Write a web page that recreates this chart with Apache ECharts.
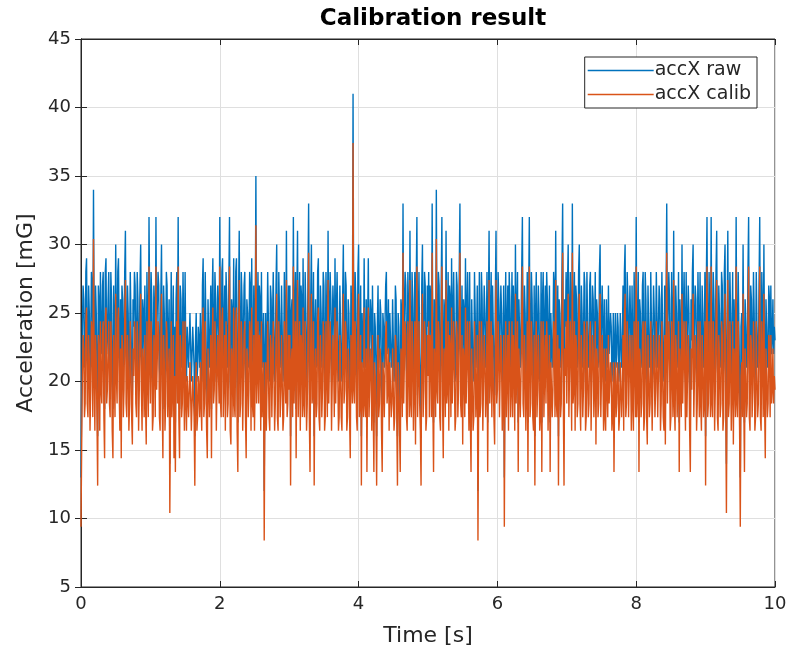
<!DOCTYPE html>
<html>
<head>
<meta charset="utf-8">
<script src="https://cdn.jsdelivr.net/npm/echarts@6/dist/echarts.min.js"></script>
<style>
html,body{margin:0;padding:0;background:#fff;}
#chart{width:794px;height:662px;}
</style>
</head>
<body>
<div id="chart"></div>
<script>
const dt = 0.01;
const xTicks = [0, 2, 4, 6, 8, 10];
const yTicks = [5, 10, 15, 20, 25, 30, 35, 40, 45];
const seriesNames = ['accX raw', 'accX calib'];

const accRaw = [
13,19,24,27,26,21,22,28,29,22,21,27,25,20,23,28,27,21,34,24,20,27,25,21,16,27,26,20,28,23,22,27,28,21,18,28,29,22,23,26,28,22,21,28,26,20,18,27,24,21,30,24,22,28,29,23,20,26,18,27,26,21,23,28,31,22,21,27,25,20,22,28,28,21,19,26,24,28,27,22,21,28,26,20,23,27,30,23,20,26,25,21,27,22,19,28,24,21,32,25,
22,28,26,20,21,27,25,21,32,23,23,28,27,21,20,26,30,22,18,27,25,20,22,28,27,21,21,26,14,22,28,21,23,27,18,24,17,26,28,22,32,21,18,27,26,21,22,28,24,20,28,22,20,24,24,21,21,25,25,20,22,24,24,21,16,23,25,20,21,24,23,21,25,22,20,27,29,21,22,28,28,20,18,26,26,21,21,27,18,26,29,22,23,28,26,20,20,27,27,22,
32,22,21,28,29,21,24,27,20,28,26,21,22,27,32,20,19,26,25,21,29,22,21,28,29,20,17,26,31,21,22,28,26,20,20,27,28,21,18,26,25,21,23,28,27,20,29,22,21,27,20,24,35,22,24,28,22,27,26,20,28,21,21,25,12,22,25,20,23,28,28,21,20,27,26,21,21,28,24,20,22,27,30,21,20,28,25,21,23,27,27,20,21,28,24,22,31,21,22,27,
23,27,16,25,26,21,32,22,22,28,18,26,31,21,24,28,20,27,26,21,29,22,21,28,25,20,22,27,33,21,17,26,30,22,23,28,16,24,26,21,22,28,29,21,20,27,25,21,23,28,27,20,21,28,24,21,31,22,22,28,26,20,20,27,25,21,29,22,22,28,24,20,21,27,27,21,20,26,30,22,23,28,27,20,21,26,25,21,18,27,24,22,41,23,22,28,26,21,20,28,
30,21,22,27,16,25,25,21,29,22,21,26,17,24,29,21,23,26,25,20,27,22,17,25,24,21,16,24,27,21,22,26,25,20,17,25,24,21,21,27,28,22,23,26,20,25,25,21,22,26,26,20,21,27,26,21,16,25,24,20,17,26,25,21,33,22,22,28,27,21,20,28,25,21,31,22,21,28,26,20,23,28,19,27,32,21,24,28,22,20,16,27,30,21,23,28,27,20,21,27,
24,28,21,27,26,21,33,22,17,26,25,21,34,23,22,28,27,21,20,27,32,22,18,26,25,21,31,22,23,28,20,27,26,21,29,22,22,28,24,20,21,28,27,21,23,28,33,22,21,27,19,26,25,21,29,22,22,28,24,20,28,21,17,26,26,20,21,28,25,21,23,27,12,22,28,21,22,28,26,20,20,27,25,21,23,28,17,25,31,22,24,28,21,27,27,21,19,26,31,22,
23,28,26,21,21,27,25,20,22,27,13,24,28,21,24,27,20,28,26,21,23,28,21,27,25,20,30,22,22,28,17,26,26,21,24,28,32,22,21,27,25,20,23,28,17,26,32,21,22,28,26,21,20,27,16,25,28,21,23,27,25,20,21,28,17,26,28,21,24,27,22,28,26,20,20,27,17,25,25,21,23,28,27,21,31,22,21,27,16,26,25,21,22,28,33,22,16,26,24,28,
22,27,30,21,21,28,25,20,33,22,23,28,20,27,26,21,22,28,30,22,20,27,25,21,23,28,27,20,21,28,24,21,22,27,28,20,20,27,26,21,23,28,19,26,25,21,22,28,30,21,21,27,24,20,26,21,20,26,23,21,27,22,22,25,24,20,21,25,17,23,25,21,22,25,24,20,21,25,25,21,23,27,20,28,30,21,22,28,26,21,21,27,24,20,27,22,20,28,25,21,
32,21,23,28,17,26,25,21,22,27,28,20,21,28,26,21,19,27,24,21,22,28,28,20,20,27,25,21,23,28,28,21,21,27,26,20,22,28,24,21,20,27,19,26,33,22,22,28,26,20,21,28,24,21,31,22,20,27,25,21,23,28,17,26,26,21,30,22,22,28,24,20,28,21,21,27,25,20,17,26,23,28,30,21,21,27,26,20,22,28,24,21,28,22,20,27,25,21,22,28,
16,27,32,21,22,28,25,21,32,22,21,28,26,20,23,28,31,21,20,27,25,21,22,28,27,20,21,28,30,22,14,24,31,21,22,28,25,20,23,28,19,26,26,21,32,22,21,28,24,20,13,24,25,21,30,22,17,26,24,21,22,28,32,21,20,27,26,21,23,28,25,20,21,28,24,21,22,27,32,21,20,28,25,21,30,22,18,26,24,21,22,27,26,21,27,22,23,26,22,24,
23
];

const accCalib = [
9.4,15.4,20.4,23.4,22.4,17.4,18.4,24.4,25.4,18.4,17.4,23.4,21.4,16.4,19.4,24.4,23.4,17.4,30.4,20.4,16.4,23.4,21.4,17.4,12.4,23.4,22.4,16.4,24.4,19.4,18.4,23.4,24.4,17.4,14.4,24.4,25.4,18.4,19.4,22.4,24.4,18.4,17.4,24.4,22.4,16.4,14.4,23.4,20.4,17.4,26.4,20.4,18.4,24.4,25.4,19.4,16.4,22.4,14.4,23.4,22.4,17.4,19.4,24.4,27.4,18.4,17.4,23.4,21.4,16.4,18.4,24.4,24.4,17.4,15.4,22.4,20.4,24.4,23.4,18.4,17.4,24.4,22.4,16.4,19.4,23.4,26.4,19.4,16.4,22.4,21.4,17.4,23.4,18.4,15.4,24.4,20.4,17.4,28.4,21.4,
18.4,24.4,22.4,16.4,17.4,23.4,21.4,17.4,28.4,19.4,19.4,24.4,23.4,17.4,16.4,22.4,26.4,18.4,14.4,23.4,21.4,16.4,18.4,24.4,23.4,17.4,17.4,22.4,10.4,18.4,24.4,17.4,19.4,23.4,14.4,20.4,13.4,22.4,24.4,18.4,28.4,17.4,14.4,23.4,22.4,17.4,18.4,24.4,20.4,16.4,24.4,18.4,16.4,20.4,20.4,17.4,17.4,21.4,21.4,16.4,18.4,20.4,20.4,17.4,12.4,19.4,21.4,16.4,17.4,20.4,19.4,17.4,21.4,18.4,16.4,23.4,25.4,17.4,18.4,24.4,24.4,16.4,14.4,22.4,22.4,17.4,17.4,23.4,14.4,22.4,25.4,18.4,19.4,24.4,22.4,16.4,16.4,23.4,23.4,18.4,
28.4,18.4,17.4,24.4,25.4,17.4,20.4,23.4,16.4,24.4,22.4,17.4,18.4,23.4,28.4,16.4,15.4,22.4,21.4,17.4,25.4,18.4,17.4,24.4,25.4,16.4,13.4,22.4,27.4,17.4,18.4,24.4,22.4,16.4,16.4,23.4,24.4,17.4,14.4,22.4,21.4,17.4,19.4,24.4,23.4,16.4,25.4,18.4,17.4,23.4,16.4,20.4,31.4,18.4,20.4,24.4,18.4,23.4,22.4,16.4,24.4,17.4,17.4,21.4,8.4,18.4,21.4,16.4,19.4,24.4,24.4,17.4,16.4,23.4,22.4,17.4,17.4,24.4,20.4,16.4,18.4,23.4,26.4,17.4,16.4,24.4,21.4,17.4,19.4,23.4,23.4,16.4,17.4,24.4,20.4,18.4,27.4,17.4,18.4,23.4,
19.4,23.4,12.4,21.4,22.4,17.4,28.4,18.4,18.4,24.4,14.4,22.4,27.4,17.4,20.4,24.4,16.4,23.4,22.4,17.4,25.4,18.4,17.4,24.4,21.4,16.4,18.4,23.4,29.4,17.4,13.4,22.4,26.4,18.4,19.4,24.4,12.4,20.4,22.4,17.4,18.4,24.4,25.4,17.4,16.4,23.4,21.4,17.4,19.4,24.4,23.4,16.4,17.4,24.4,20.4,17.4,27.4,18.4,18.4,24.4,22.4,16.4,16.4,23.4,21.4,17.4,25.4,18.4,18.4,24.4,20.4,16.4,17.4,23.4,23.4,17.4,16.4,22.4,26.4,18.4,19.4,24.4,23.4,16.4,17.4,22.4,21.4,17.4,14.4,23.4,20.4,18.4,37.4,19.4,18.4,24.4,22.4,17.4,16.4,24.4,
26.4,17.4,18.4,23.4,12.4,21.4,21.4,17.4,25.4,18.4,17.4,22.4,13.4,20.4,25.4,17.4,19.4,22.4,21.4,16.4,23.4,18.4,13.4,21.4,20.4,17.4,12.4,20.4,23.4,17.4,18.4,22.4,21.4,16.4,13.4,21.4,20.4,17.4,17.4,23.4,24.4,18.4,19.4,22.4,16.4,21.4,21.4,17.4,18.4,22.4,22.4,16.4,17.4,23.4,22.4,17.4,12.4,21.4,20.4,16.4,13.4,22.4,21.4,17.4,29.4,18.4,18.4,24.4,23.4,17.4,16.4,24.4,21.4,17.4,27.4,18.4,17.4,24.4,22.4,16.4,19.4,24.4,15.4,23.4,28.4,17.4,20.4,24.4,18.4,16.4,12.4,23.4,26.4,17.4,19.4,24.4,23.4,16.4,17.4,23.4,
20.4,24.4,17.4,23.4,22.4,17.4,29.4,18.4,13.4,22.4,21.4,17.4,30.4,19.4,18.4,24.4,23.4,17.4,16.4,23.4,28.4,18.4,14.4,22.4,21.4,17.4,27.4,18.4,19.4,24.4,16.4,23.4,22.4,17.4,25.4,18.4,18.4,24.4,20.4,16.4,17.4,24.4,23.4,17.4,19.4,24.4,29.4,18.4,17.4,23.4,15.4,22.4,21.4,17.4,25.4,18.4,18.4,24.4,20.4,16.4,24.4,17.4,13.4,22.4,22.4,16.4,17.4,24.4,21.4,17.4,19.4,23.4,8.4,18.4,24.4,17.4,18.4,24.4,22.4,16.4,16.4,23.4,21.4,17.4,19.4,24.4,13.4,21.4,27.4,18.4,20.4,24.4,17.4,23.4,23.4,17.4,15.4,22.4,27.4,18.4,
19.4,24.4,22.4,17.4,17.4,23.4,21.4,16.4,18.4,23.4,9.4,20.4,24.4,17.4,20.4,23.4,16.4,24.4,22.4,17.4,19.4,24.4,17.4,23.4,21.4,16.4,26.4,18.4,18.4,24.4,13.4,22.4,22.4,17.4,20.4,24.4,28.4,18.4,17.4,23.4,21.4,16.4,19.4,24.4,13.4,22.4,28.4,17.4,18.4,24.4,22.4,17.4,16.4,23.4,12.4,21.4,24.4,17.4,19.4,23.4,21.4,16.4,17.4,24.4,13.4,22.4,24.4,17.4,20.4,23.4,18.4,24.4,22.4,16.4,16.4,23.4,13.4,21.4,21.4,17.4,19.4,24.4,23.4,17.4,27.4,18.4,17.4,23.4,12.4,22.4,21.4,17.4,18.4,24.4,29.4,18.4,12.4,22.4,20.4,24.4,
18.4,23.4,26.4,17.4,17.4,24.4,21.4,16.4,29.4,18.4,19.4,24.4,16.4,23.4,22.4,17.4,18.4,24.4,26.4,18.4,16.4,23.4,21.4,17.4,19.4,24.4,23.4,16.4,17.4,24.4,20.4,17.4,18.4,23.4,24.4,16.4,16.4,23.4,22.4,17.4,19.4,24.4,15.4,22.4,21.4,17.4,18.4,24.4,26.4,17.4,17.4,23.4,20.4,16.4,22.4,17.4,16.4,22.4,19.4,17.4,23.4,18.4,18.4,21.4,20.4,16.4,17.4,21.4,13.4,19.4,21.4,17.4,18.4,21.4,20.4,16.4,17.4,21.4,21.4,17.4,19.4,23.4,16.4,24.4,26.4,17.4,18.4,24.4,22.4,17.4,17.4,23.4,20.4,16.4,23.4,18.4,16.4,24.4,21.4,17.4,
28.4,17.4,19.4,24.4,13.4,22.4,21.4,17.4,18.4,23.4,24.4,16.4,17.4,24.4,22.4,17.4,15.4,23.4,20.4,17.4,18.4,24.4,24.4,16.4,16.4,23.4,21.4,17.4,19.4,24.4,24.4,17.4,17.4,23.4,22.4,16.4,18.4,24.4,20.4,17.4,16.4,23.4,15.4,22.4,29.4,18.4,18.4,24.4,22.4,16.4,17.4,24.4,20.4,17.4,27.4,18.4,16.4,23.4,21.4,17.4,19.4,24.4,13.4,22.4,22.4,17.4,26.4,18.4,18.4,24.4,20.4,16.4,24.4,17.4,17.4,23.4,21.4,16.4,13.4,22.4,19.4,24.4,26.4,17.4,17.4,23.4,22.4,16.4,18.4,24.4,20.4,17.4,24.4,18.4,16.4,23.4,21.4,17.4,18.4,24.4,
12.4,23.4,28.4,17.4,18.4,24.4,21.4,17.4,28.4,18.4,17.4,24.4,22.4,16.4,19.4,24.4,27.4,17.4,16.4,23.4,21.4,17.4,18.4,24.4,23.4,16.4,17.4,24.4,26.4,18.4,10.4,20.4,27.4,17.4,18.4,24.4,21.4,16.4,19.4,24.4,15.4,22.4,22.4,17.4,28.4,18.4,17.4,24.4,20.4,16.4,9.4,20.4,21.4,17.4,26.4,18.4,13.4,22.4,20.4,17.4,18.4,24.4,28.4,17.4,16.4,23.4,22.4,17.4,19.4,24.4,21.4,16.4,17.4,24.4,20.4,17.4,18.4,23.4,28.4,17.4,16.4,24.4,21.4,17.4,26.4,18.4,14.4,22.4,20.4,17.4,18.4,23.4,22.4,17.4,23.4,18.4,19.4,22.4,18.4,20.4,
19.4
];

const rawPairs = accRaw.map((v, i) => [i * dt, v]);
const calibPairs = accCalib.map((v, i) => [i * dt, v]);

const FONT = 'DejaVu Sans';
const TXT = '#262626';
const chart = echarts.init(document.getElementById('chart'), null, {renderer: 'canvas'});
const axisLineStyle = {show: true, lineStyle: {color: TXT, width: 1}};
chart.setOption({
  animation: false,
  backgroundColor: '#ffffff',
  textStyle: {fontFamily: FONT},
  title: {
    text: 'Calibration result',
    left: 428, top: 3, textAlign: 'center',
    textStyle: {fontFamily: FONT, fontWeight: 'bold', fontSize: 23, color: '#000'}
  },
  grid: {left: 81, top: 39, right: 19, bottom: 75, containLabel: false, show: true, borderColor: TXT, borderWidth: 1, backgroundColor: '#fff'},
  legend: {
    data: seriesNames,
    orient: 'vertical',
    right: 37, top: 57,
    icon: 'rect',
    itemWidth: 66, itemHeight: 1.6,
    itemGap: 5,
    padding: [4, 6, 4, 3],
    backgroundColor: '#fff',
    borderColor: TXT, borderWidth: 1,
    textStyle: {fontFamily: FONT, fontSize: 19, color: TXT, padding: [0, 0, 0, -4]}
  },
  xAxis: [{
    type: 'value', min: xTicks[0], max: xTicks[xTicks.length - 1], interval: 2,
    name: 'Time [s]', nameLocation: 'middle', nameGap: 38,
    nameTextStyle: {fontFamily: FONT, fontSize: 22, color: TXT},
    axisLine: axisLineStyle,
    axisTick: {show: true, inside: true, length: 6, lineStyle: {color: TXT}},
    axisLabel: {fontFamily: FONT, fontSize: 18, color: TXT, margin: 8},
    splitLine: {show: true, lineStyle: {color: '#dfdfdf', width: 1}}
  }, {
    type: 'value', position: 'top', min: 0, max: 10, interval: 2,
    axisLine: axisLineStyle,
    axisTick: {show: true, inside: true, length: 6, lineStyle: {color: TXT}},
    axisLabel: {show: false}, splitLine: {show: false}
  }],
  yAxis: [{
    type: 'value', min: yTicks[0], max: yTicks[yTicks.length - 1], interval: 5,
    name: 'Acceleration [mG]', nameLocation: 'middle', nameGap: 41,
    nameTextStyle: {fontFamily: FONT, fontSize: 22, color: TXT},
    axisLine: axisLineStyle,
    axisTick: {show: true, inside: true, length: 6, lineStyle: {color: TXT}},
    axisLabel: {fontFamily: FONT, fontSize: 18, color: TXT, margin: 10},
    splitLine: {show: true, lineStyle: {color: '#dfdfdf', width: 1}}
  }, {
    type: 'value', position: 'right', min: 5, max: 45, interval: 5,
    axisLine: axisLineStyle,
    axisTick: {show: true, inside: true, length: 6, lineStyle: {color: TXT}},
    axisLabel: {show: false}, splitLine: {show: false}
  }],
  series: [{
    name: seriesNames[0], type: 'line', data: rawPairs,
    showSymbol: false, symbol: 'none', sampling: null,
    lineStyle: {color: '#0072BD', width: 1.4}, itemStyle: {color: '#0072BD'}
  }, {
    name: seriesNames[1], type: 'line', data: calibPairs,
    showSymbol: false, symbol: 'none', sampling: null,
    lineStyle: {color: '#D95319', width: 1.4}, itemStyle: {color: '#D95319'}
  }]
});
</script>
</body>
</html>
